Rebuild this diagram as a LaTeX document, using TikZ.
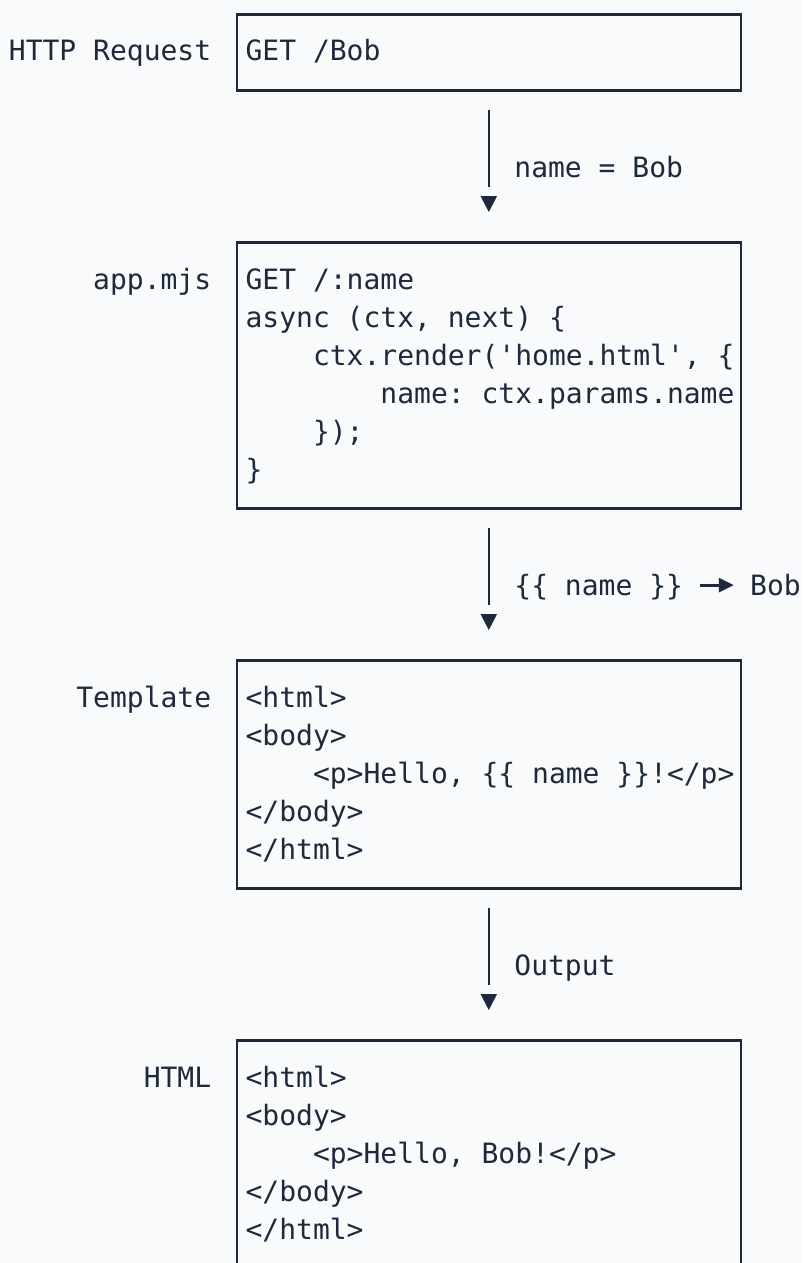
\documentclass[tikz,border=0pt]{standalone}
\usepackage{fontspec}
\setmonofont{DejaVu Sans Mono}
\usetikzlibrary{calc,arrows.meta}
\definecolor{paper}{HTML}{F8FAFC}
\definecolor{ink}{HTML}{1E293B}
\tikzset{
  panel/.style={draw=ink, line width=1.3pt, minimum width=252pt, anchor=north, inner sep=0pt},
  code/.style={text=ink, inner sep=0pt, anchor=base west, font=\fontsize{14}{19}\selectfont\ttfamily},
  tag/.style={code, anchor=base east},
  flow/.style={draw=ink, line width=1.15pt},
}
\newcommand{\ind}{\phantom{xxxx}}

\begin{document}
\begin{tikzpicture}[x=0.5pt, y=-0.5pt]
  \useasboundingbox (0,0) rectangle (803,1263);
  \fill[paper] (0,0) rectangle (803,1263);
  \clip (0,0) rectangle (803,1263);

  % Boxes, centred on the arrow column
  \node[panel, minimum height=38pt]  (reqbox)  at (488.8,13)   {};
  \node[panel, minimum height=133pt] (appbox)  at (488.8,241)  {};
  \node[panel, minimum height=114pt] (tplbox)  at (488.8,659)  {};
  \node[panel, minimum height=133pt] (htmlbox) at (488.8,1039) {};

  % Labels on the left
  \node[tag] (reqtag)  at (211.6,61)   {HTTP Request};
  \node[tag] (apptag)  at (211.6,289)  {app.mjs};
  \node[tag] (tpltag)  at (211.6,707)  {Template};
  \node[tag] (htmltag) at (211.6,1087) {HTML};

  % Box contents
  \node[code] (req0) at (245.2,61) {GET /Bob};
  \foreach \ln [count=\i from 0] in {{GET /:name}, {async (ctx, next) \{},
      {\ind ctx.render('home.html', \{}, {\ind\ind name: ctx.params.name},
      {\ind\});}, {\}}}
    \node[code] (app\i) at (245.2,289+38*\i) {\ln};
  \foreach \ln [count=\i from 0] in {{<html>}, {<body>},
      {\ind<p>Hello, \{\{ name \}\}!</p>}, {</body>}, {</html>}}
    \node[code] (tpl\i) at (245.2,707+38*\i) {\ln};
  \foreach \ln [count=\i from 0] in {{<html>}, {<body>},
      {\ind<p>Hello, Bob!</p>}, {</body>}, {</html>}}
    \node[code] (out\i) at (245.2,1087+38*\i) {\ln};

  % Arrows between boxes
  \foreach \a/\b/\txt [count=\k] in {reqbox/appbox/{name = Bob},
      appbox/tplbox/{\{\{ name \}\}}, tplbox/htmlbox/{Output}} {
    \draw[flow] ($(\a.south)+(0,18)$) -- ($(\b.north)+(0,-54)$) coordinate (tip\k);
    \fill[ink] ($(tip\k)+(-8.3,9)$) -- ($(tip\k)+(8.3,9)$) -- ($(tip\k)+(0,25)$) -- cycle;
    \node[code] (flowlbl\k) at ($(\a.south)+(25.2,86)$) {\txt};
  }
  % substitution arrow
  \node[code] (bobval) at ($(appbox.south)+(261,86)$) {Bob};
  \draw[ink, line width=1.4pt, -{Triangle[length=7.5pt,width=7pt]}]
    ($(flowlbl2.east |- bobval.west)+(17,0)$) -- ($(bobval.west)+(-16,0)$);
\end{tikzpicture}
\end{document}
